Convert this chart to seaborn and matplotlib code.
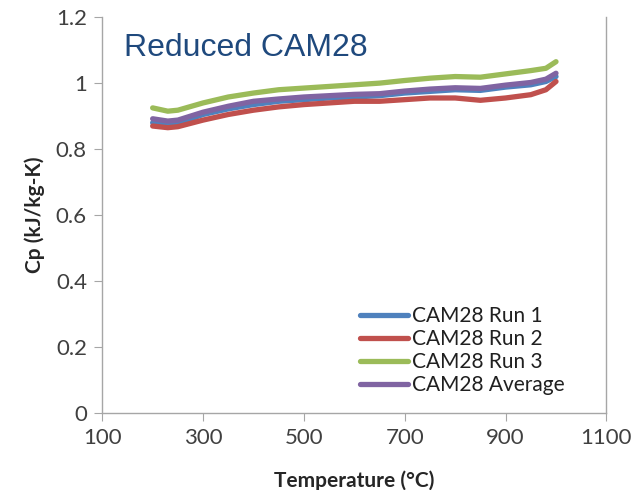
#!/usr/bin/env python3
# Specific heat of reduced CAM28 vs temperature

import numpy as np
import pandas as pd
import seaborn as sns
import matplotlib.pyplot as plt

sns.set_style("white")

temperature = [200, 230, 250, 300, 350, 400, 450, 500, 550, 600, 650, 700,
               750, 800, 850, 900, 950, 980, 1000]
run1 = [0.880, 0.875, 0.878, 0.905, 0.922, 0.935, 0.945, 0.950, 0.955, 0.958,
        0.962, 0.970, 0.975, 0.980, 0.978, 0.988, 0.995, 1.005, 1.020]
run2 = [0.870, 0.865, 0.868, 0.888, 0.905, 0.918, 0.928, 0.935, 0.940, 0.945,
        0.945, 0.950, 0.955, 0.955, 0.948, 0.955, 0.965, 0.980, 1.005]
run3 = [0.925, 0.915, 0.918, 0.940, 0.958, 0.970, 0.980, 0.985, 0.990, 0.995,
        1.000, 1.008, 1.015, 1.020, 1.018, 1.028, 1.038, 1.045, 1.065]
average = [0.892, 0.885, 0.888, 0.912, 0.930, 0.945, 0.952, 0.958, 0.962, 0.966,
           0.968, 0.976, 0.982, 0.986, 0.984, 0.994, 1.002, 1.012, 1.030]

labels = ["CAM28 Run 1", "CAM28 Run 2", "CAM28 Run 3", "CAM28 Average"]
colors = ["#4F81BD", "#C0504D", "#9BBB59", "#8064A2"]

df = pd.concat([
    pd.DataFrame({"temperature": temperature, "cp": vals, "series": lab})
    for vals, lab in zip([run1, run2, run3, average], labels)
])

fig = plt.figure(figsize=(6.35, 4.9), dpi=100)
ax = fig.add_axes([0.161, 0.157, 0.794, 0.808])

sns.lineplot(data=df, x="temperature", y="cp", hue="series",
             palette=colors, hue_order=labels, linewidth=3.8, ax=ax)

ax.set_xlim(100, 1100)
ax.set_ylim(0, 1.2)
ax.set_xticks([100, 300, 500, 700, 900, 1100])
ax.set_yticks([0, 0.2, 0.4, 0.6, 0.8, 1.0, 1.2])
ax.set_yticklabels(["0", "0.2", "0.4", "0.6", "0.8", "1", "1.2"])

for lab in ax.get_xticklabels() + ax.get_yticklabels():
    lab.set_fontfamily("Lato")
    lab.set_fontsize(16)
    lab.set_color("#404040")

ax.set_xlabel("Temperature (°C)", fontsize=15, fontweight="bold",
              family="Lato", labelpad=16)
ax.set_ylabel("Cp (kJ/kg-K)", fontsize=15, fontweight="bold",
              family="Lato", labelpad=8)

for side in ["left", "bottom", "right"]:
    ax.spines[side].set_color("#a6a6a6")
    ax.spines[side].set_linewidth(1.0)
ax.spines["top"].set_visible(False)
ax.tick_params(axis="both", which="both", length=6, color="#a6a6a6",
               direction="out", left=True, bottom=True, pad=5)

ax.text(0.044, 0.96, "Reduced CAM28", transform=ax.transAxes,
        fontsize=23, color="#1F497D", family="Liberation Sans",
        ha="left", va="top")

leg = ax.legend(loc="lower left", bbox_to_anchor=(0.512, 0.045),
                frameon=False, handlelength=2.3, handletextpad=0.2,
                labelspacing=0.15, borderaxespad=0, borderpad=0,
                prop={"family": "Lato", "size": 15})
for line in leg.get_lines():
    line.set_linewidth(3.8)
for t in leg.get_texts():
    t.set_color("#202020")

plt.savefig("out.png", dpi=100)
